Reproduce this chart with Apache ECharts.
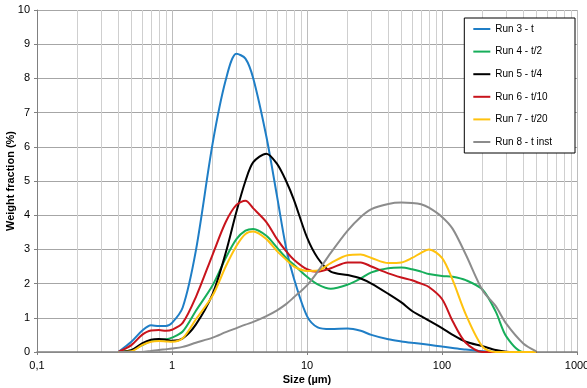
<!DOCTYPE html>
<html>
<head>
<meta charset="utf-8">
<script src="https://cdn.jsdelivr.net/npm/echarts@6/dist/echarts.min.js"></script>
<style>
  html, body { margin: 0; padding: 0; background: #fff; }
  #chart { width: 587px; height: 388px; }
</style>
</head>
<body>
<div id="chart"></div>
<script>
// particle size classes (µm)
const sizes = [0.4, 0.5, 0.6, 0.7, 0.8, 0.9, 1, 1.2, 1.5, 2, 2.5, 3, 3.5, 4, 5, 6, 7, 8, 10, 12, 15, 20, 25, 30, 40, 50, 60, 70, 80, 100, 120, 150, 200, 250, 300, 400, 500];

const run3 = [0, 0.3, 0.62, 0.78, 0.76, 0.76, 0.85, 1.3, 2.95, 6.1, 7.95, 8.72, 8.58, 8.0, 6.3, 4.55, 3.05, 2.15, 1.05, 0.72, 0.67, 0.69, 0.62, 0.5, 0.37, 0.31, 0.27, 0.24, 0.21, 0.16, 0.12, 0.07, 0.02, 0, 0, 0, 0];
const run4 = [0, 0.05, 0.2, 0.32, 0.36, 0.37, 0.42, 0.6, 1.2, 1.95, 2.75, 3.3, 3.55, 3.6, 3.4, 3.05, 2.75, 2.55, 2.2, 1.98, 1.85, 1.97, 2.15, 2.33, 2.45, 2.47, 2.42, 2.35, 2.28, 2.22, 2.2, 2.1, 1.82, 1.18, 0.45, 0, 0];
const run5 = [0, 0.05, 0.25, 0.36, 0.38, 0.36, 0.33, 0.4, 0.8, 1.7, 2.9, 4.1, 5.0, 5.55, 5.8, 5.5, 5.0, 4.45, 3.35, 2.75, 2.35, 2.25, 2.15, 2.0, 1.7, 1.45, 1.2, 1.05, 0.92, 0.7, 0.5, 0.3, 0.17, 0.06, 0.01, 0, 0];
const run6 = [0, 0.2, 0.5, 0.63, 0.64, 0.62, 0.65, 0.85, 1.6, 2.85, 3.8, 4.3, 4.42, 4.2, 3.8, 3.3, 2.95, 2.7, 2.42, 2.35, 2.45, 2.62, 2.62, 2.5, 2.3, 2.18, 2.1, 2.0, 1.9, 1.55, 0.9, 0.27, 0, 0, 0, 0, 0];
const run7 = [0, 0.02, 0.2, 0.3, 0.32, 0.31, 0.3, 0.4, 0.95, 1.65, 2.5, 3.1, 3.45, 3.52, 3.3, 2.95, 2.7, 2.5, 2.37, 2.38, 2.6, 2.83, 2.85, 2.75, 2.6, 2.62, 2.75, 2.9, 3.0, 2.75, 2.1, 1.1, 0.15, 0, 0, 0, 0];
const run8 = [0, 0, 0, 0.03, 0.06, 0.08, 0.1, 0.15, 0.27, 0.42, 0.58, 0.7, 0.8, 0.88, 1.05, 1.22, 1.4, 1.6, 1.95, 2.35, 2.9, 3.55, 3.95, 4.18, 4.33, 4.37, 4.36, 4.32, 4.22, 3.95, 3.6, 2.85, 1.8, 1.34, 0.82, 0.25, 0.02];

const runNames = ['Run 3 - t', 'Run 4 - t/2', 'Run 5 - t/4', 'Run 6 - t/10', 'Run 7 - t/20', 'Run 8 - t inst'];
const runColors = ['#1f7ec6', '#16ae5a', '#000000', '#c8141c', '#ffc20e', '#8c8c8c'];

// minor vertical grid lines of the log axis (2..9 in each decade)
const minorGrid = [];
[0.1, 1, 10, 100].forEach(d => {
    for (let k = 2; k <= 9; k++) minorGrid.push(+(d * k).toPrecision(3));
});

const chart = echarts.init(document.getElementById('chart'));

const allRuns = [run3, run4, run5, run6, run7, run8];
const series = allRuns.map((vals, i) => ({
    name: runNames[i],
    type: 'line',
    smooth: 0.3,
    symbol: 'none',
    lineStyle: { color: runColors[i], width: 2 },
    itemStyle: { color: runColors[i] },
    data: sizes.map((s, j) => [s, vals[j]]),
    markLine: i === 0 ? {
        silent: true,
        symbol: 'none',
        label: { show: false },
        lineStyle: { color: '#cfcfcf', width: 1, type: 'solid' },
        z: 0,
        data: minorGrid.map(v => ({ xAxis: v }))
    } : undefined
}));

chart.setOption({
    animation: false,
    textStyle: { fontFamily: 'Liberation Sans, Arial, sans-serif' },
    grid: { left: 37, right: 10, top: 10, bottom: 36, outerBoundsMode: 'none' },
    legend: {
        orient: 'vertical',
        right: 12,
        top: 18,
        padding: [6, 23, 6, 9],
        icon: 'path://M0,0 L17,0 L17,2 L0,2 Z',
        itemWidth: 17,
        itemHeight: 10,
        itemGap: 12.6,
        backgroundColor: '#fff',
        borderColor: '#000',
        borderWidth: 1,
        textStyle: { fontSize: 10, color: '#000' },
        data: runNames
    },
    xAxis: {
        type: 'log',
        logBase: 10,
        min: 0.1,
        max: 1000,
        name: 'Size (µm)',
        nameLocation: 'middle',
        nameGap: 22,
        nameMoveOverlap: false,
        nameTextStyle: { fontWeight: 'bold', fontSize: 11, color: '#000' },
        axisLine: { lineStyle: { color: '#808080', width: 1.5 } },
        axisTick: { show: true, length: 3, lineStyle: { color: '#808080' } },
        axisLabel: {
            fontSize: 11,
            color: '#000',
            formatter: v => String(v).replace('.', ',')
        },
        splitLine: { show: true, lineStyle: { color: '#bdbdbd' } }
    },
    yAxis: {
        type: 'value',
        min: 0,
        max: 10,
        interval: 1,
        name: 'Weight fraction (%)',
        nameLocation: 'middle',
        nameGap: 21,
        nameMoveOverlap: false,
        nameTextStyle: { fontWeight: 'bold', fontSize: 11, color: '#000' },
        axisLine: { show: true, lineStyle: { color: '#808080', width: 1 } },
        axisTick: { show: true, length: 3, lineStyle: { color: '#808080' } },
        axisLabel: { fontSize: 11, color: '#000', margin: 7 },
        splitLine: { show: true, lineStyle: { color: '#a6a6a6' } }
    },
    series: series
});
</script>
</body>
</html>
